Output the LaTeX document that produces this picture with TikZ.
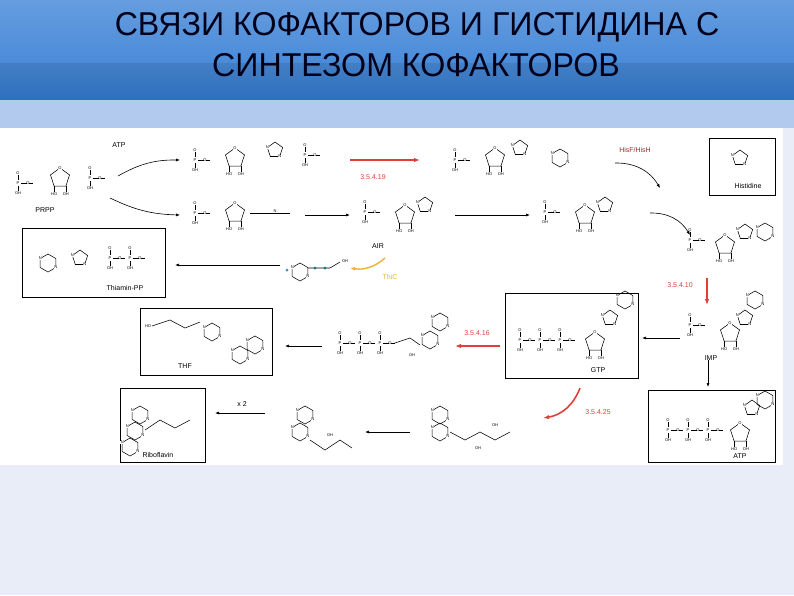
\documentclass[tikz,border=0pt]{standalone}
\usepackage{fontspec}
\setmainfont{Liberation Sans}
\usetikzlibrary{arrows.meta,shapes.geometric}
\definecolor{bandA}{HTML}{4A8BD9}
\definecolor{bandB}{HTML}{2E70BE}
\definecolor{bandC}{HTML}{B2CAEE}
\definecolor{lav}{HTML}{E9EDF8}
\definecolor{ecred}{HTML}{E0403A}
\definecolor{thic}{HTML}{F0B030}
\tikzset{
 ar/.style={-{Latex[length=4pt]},black,line width=0.6pt},
 rar/.style={-{Latex[length=6pt]},ecred,line width=1.6pt},
 box/.style={draw=black,line width=0.7pt},
 atm/.style={font=\fontsize{4}{4}\selectfont,inner sep=0.3pt},
 lbl/.style={font=\fontsize{7}{8}\selectfont,inner sep=1pt},
 ec/.style={font=\fontsize{7}{8}\selectfont,text=ecred,inner sep=1pt},
 bond/.style={line width=0.55pt},
 ttl/.style={font=\fontsize{33}{34}\selectfont,text=black!90!blue,xscale=0.975,transform shape,inner sep=0pt},
 rib/.pic={\draw[bond] (-90:10)--(-162:10)--(-234:10)--(-306:10)--(-18:10)--cycle;
   \node[atm,fill=white] at (-90:10){O};
   \draw[bond] (-234:10)--++(0,6) node[atm,below]{HO};
   \draw[bond] (-306:10)--++(0,6) node[atm,below]{OH};},
 hexa/.pic={\draw[bond] (-30:9)--(-90:9)--(-150:9)--(-210:9)--(-270:9)--(-330:9)--cycle;
   \node[atm,fill=white] at (-150:9){N};\node[atm,fill=white] at (-330:9){N};},
 penta/.pic={\draw[bond] (-90:8)--(-162:8)--(-234:8)--(-306:8)--(-18:8)--cycle;
   \node[atm,fill=white] at (-162:8){N};\node[atm,fill=white] at (-306:8){N};},
 phos/.pic={\node[atm] at (0,0){P};\draw[bond](0,-3)--(0,-8) node[atm,above]{O};
   \draw[bond](0,3)--(0,8) node[atm,below]{OH};
   \draw[bond](3,0)--(9,0);\node[atm] at (10,0){O};\draw[bond](11,0)--(15,0);},
}
\begin{document}
\begin{tikzpicture}[x=1pt,y=-1pt]
\useasboundingbox (0,0) rectangle (794,595);
\fill[lav] (0,0) rectangle (794,595);
\shade[top color=bandA!85!white,bottom color=bandA] (0,0) rectangle (794,63);
\shade[top color=bandB!90!white,bottom color=bandB] (0,63) rectangle (794,100);
\fill[bandC] (0,100) rectangle (794,128);
\fill[white] (0,128) rectangle (783,465);
\node[ttl] (title1) at (417,27) {СВЯЗИ КОФАКТОРОВ И ГИСТИДИНА С};
\node[ttl] (title2) at (416,65) {СИНТЕЗОМ КОФАКТОРОВ};
% ---------- row 1
\pic at (18,183) {phos};\pic at (60,178) {rib};\pic at (90,178) {phos};
\node[lbl] (prpp) at (45,210){PRPP};
\coordinate (m1) at (118,176);
\pic at (195,160) {phos};\pic at (235,158) {rib};\pic at (275,150) {penta};\pic at (305,155) {phos};
\coordinate (m2a) at (180,160);\coordinate (m2b) at (350,160);
\node[lbl] (atp1) at (119,145){ATP};
\draw[ar] (m1) to[bend left=15] (m2a);
\coordinate (r1a) at (420,160);
\draw[rar] (m2b) -- (r1a);
\node[ec] (e1) at (373,177){3.5.4.19};
\pic at (455,160) {phos};\pic at (495,158) {rib};\pic at (520,148) {penta};\pic at (560,158) {hexa};
\node[font=\fontsize{7}{8}\selectfont,text=ecred!70!black] (hisfh) at (635,150){HisF/HisH};
\coordinate (hisA) at (615,163);\coordinate (hisB) at (660,188);
\draw[ar] (hisA) to[bend left=30] (hisB);
\draw[box] (709,138) rectangle (775,195);
\pic at (740,158) {penta};
\node[lbl] (his) at (748,186){Histidine};
% ---------- row 2
\coordinate (m1b) at (110,198);\coordinate (m4a) at (180,215);
\draw[ar] (m1b) to[bend right=12] (m4a);
\pic at (195,213) {phos};\pic at (235,213) {rib};
\draw[bond] (250,213)--(290,213);\node[atm] at (275,211){N};
\coordinate (a2a) at (305,215);\coordinate (a2b) at (350,215);\draw[ar] (a2a)--(a2b);
\pic at (365,212) {phos};\pic at (405,215) {rib};\pic at (425,205) {penta};
\node[lbl] (air) at (378,246){AIR};
\coordinate (a3a) at (455,215);\coordinate (a3b) at (530,215);\draw[ar] (a3a)--(a3b);
\pic at (545,212) {phos};\pic at (585,215) {rib};\pic at (605,205) {penta};
\coordinate (c4a) at (650,213);\coordinate (c4b) at (690,235);\draw[ar] (c4a) to[bend left=30] (c4b);
\pic at (690,240) {phos};\pic at (725,245) {rib};\pic at (745,232) {penta};\pic at (765,232) {hexa};
% ---------- row 3
\draw[box] (22,228) rectangle (165,297);
\pic at (48,263) {hexa};\pic at (80,258) {penta};\pic at (110,258) {phos};\pic at (130,258) {phos};
\node[lbl] (tpp) at (125,288){Thiamin-PP};
\coordinate (t1a) at (280,265);\coordinate (t1b) at (175,265);\draw[ar] (t1a)--(t1b);
\pic at (300,272) {hexa};\draw[bond](308,268)--(330,268)--(340,262);\node[atm] at (345,261){OH};
\fill[cyan!70!black] (287,270) circle(1.5);\fill[teal] (315,268) circle(1.5);\fill[teal] (325,268) circle(1.5);
\coordinate (th1) at (385,258);\coordinate (th2) at (350,268);
\draw[-{Latex[length=5pt]},thic,line width=1.4pt] (th1) to[bend left=25] (th2);
\node[font=\fontsize{7}{8}\selectfont,text=thic] (thiclbl) at (390,277){ThiC};
\coordinate (r2a) at (707,278);\coordinate (r2b) at (707,305);\draw[rar] (r2a)--(r2b);
\node[ec] (e2) at (680,285){3.5.4.10};
\pic at (755,300) {hexa};\pic at (745,318) {penta};
% ---------- row 4 IMP
\pic at (690,325) {phos};\pic at (730,333) {rib};
\node[lbl] (imp) at (711,358){IMP};
\coordinate (i1a) at (680,338);\coordinate (i1b) at (642,338);\draw[ar] (i1a)--(i1b);
\draw[box] (505,293) rectangle (638,378);
\pic at (520,340) {phos};\pic at (540,340) {phos};\pic at (560,340) {phos};\pic at (595,342) {rib};\pic at (610,318) {penta};\pic at (625,300) {hexa};
\node[lbl] (gtp) at (598,370){GTP};
\coordinate (r3a) at (500,346);\coordinate (r3b) at (455,346);\draw[rar] (r3a)--(r3b);
\node[ec] (e3) at (477,333){3.5.4.16};
\pic at (340,343) {phos};\pic at (360,343) {phos};\pic at (380,343) {phos};
\draw[bond](395,343)--(410,338)--(420,345);\node[atm] at (412,355){OH};
\pic at (430,340) {hexa};\pic at (440,322) {hexa};
\coordinate (t2a) at (322,346);\coordinate (t2b) at (285,346);\draw[ar] (t2a)--(t2b);
\draw[box] (140,308) rectangle (272,375);
\node[atm] at (148,326){HO};\draw[bond](152,326)--(170,320)--(185,328)--(200,322);
\pic at (212,332) {hexa};\pic at (240,355) {hexa};\pic at (255,345) {hexa};
\node[lbl] (thf) at (185,366){THF};
% ---------- row 5
\coordinate (d1a) at (708,360);\coordinate (d1b) at (708,387);\draw[ar] (d1a)--(d1b);
\draw[box] (648,390) rectangle (775,462);
\pic at (668,430) {phos};\pic at (688,430) {phos};\pic at (708,430) {phos};\pic at (740,433) {rib};\pic at (752,408) {penta};\pic at (765,400) {hexa};
\node[lbl] (atp2) at (740,456){ATP};
\coordinate (r4a) at (580,388);\coordinate (r4b) at (543,418);
\draw[-{Latex[length=6pt]},ecred,line width=1.6pt] (r4a) to[bend left=30] (r4b);
\node[ec] (e4) at (598,412){3.5.4.25};
\pic at (440,415) {hexa};\pic at (440,432) {hexa};\draw[bond](450,432)--(465,440)--(480,432)--(495,440)--(510,432);
\node[atm] at (478,448){OH};\node[atm] at (495,425){OH};
\coordinate (b1a) at (410,432);\coordinate (b1b) at (365,432);\draw[ar] (b1a)--(b1b);
\pic at (305,415) {hexa};\pic at (300,432) {hexa};\draw[bond](310,440)--(325,450)--(340,440)--(352,448);
\node[atm] at (330,435){OH};
\coordinate (b2a) at (265,413);\coordinate (b2b) at (215,413);\draw[ar] (b2a)--(b2b);
\node[lbl] (x2) at (242,404){x 2};
\draw[box] (120,388) rectangle (205,462);
\pic at (140,415) {hexa};\pic at (135,431) {hexa};\pic at (130,447) {hexa};
\draw[bond](145,430)--(160,420)--(175,428)--(190,420);
\node[lbl] (ribo) at (158,455){Riboflavin};
\end{tikzpicture}
\end{document}
